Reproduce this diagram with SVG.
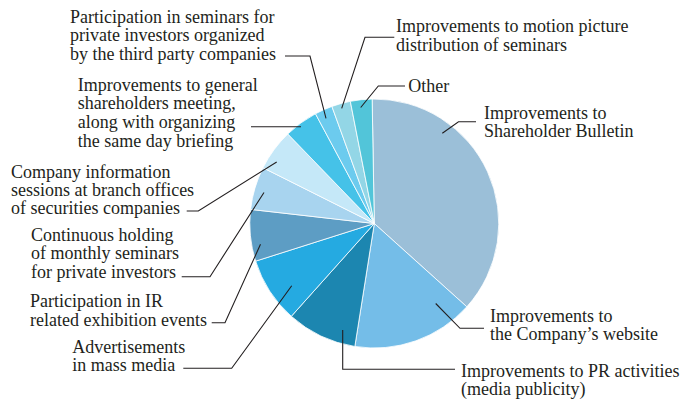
<svg xmlns="http://www.w3.org/2000/svg" width="681" height="399" viewBox="0 0 681 399">
<style>
.s{stroke:#ffffff;stroke-width:0.8;stroke-linejoin:round}
.t{font-family:"Liberation Serif","Times New Roman",serif;font-size:18px;fill:#231f20}
.c path,.c polyline{fill:none;stroke:#231f20;stroke-width:1.1}
</style>
<rect width="681" height="399" fill="#ffffff"/>
<g id="bulletin">
<path class="s" fill="#9bbfd8" d="M374.3,223.5 L372.13,99.02 A124.5,124.5 0 0 1 466.82,306.80 Z"/>
<text class="t" x="484" y="119"><tspan x="484">Improvements to</tspan><tspan x="484" y="137">Shareholder Bulletin</tspan></text>
</g>
<g id="website">
<path class="s" fill="#74bde8" d="M374.3,223.5 L466.82,306.80 A124.5,124.5 0 0 1 354.83,346.47 Z"/>
<text class="t" x="490" y="321.7"><tspan x="490">Improvements to</tspan><tspan x="490" y="340">the Company’s website</tspan></text>
</g>
<g id="pr">
<path class="s" fill="#1c86b0" d="M374.3,223.5 L354.83,346.47 A124.5,124.5 0 0 1 291.32,316.32 Z"/>
<text class="t" x="461" y="376.5"><tspan x="461">Improvements to PR activities</tspan><tspan x="461" y="394.5">(media publicity)</tspan></text>
</g>
<g id="ads">
<path class="s" fill="#25aae1" d="M374.3,223.5 L291.32,316.32 A124.5,124.5 0 0 1 255.63,261.15 Z"/>
<text class="t" x="72.3" y="352.7"><tspan x="72.3">Advertisements</tspan><tspan x="72.3" y="370.7">in mass media</tspan></text>
</g>
<g id="ir">
<path class="s" fill="#5d9dc4" d="M374.3,223.5 L255.63,261.15 A124.5,124.5 0 0 1 250.60,209.41 Z"/>
<text class="t" x="30" y="307.3"><tspan x="30">Participation in IR</tspan><tspan x="30" y="326">related exhibition events</tspan></text>
</g>
<g id="monthly">
<path class="s" fill="#a8d4ef" d="M374.3,223.5 L250.60,209.41 A124.5,124.5 0 0 1 262.97,167.75 Z"/>
<text class="t" x="31" y="240.7"><tspan x="31">Continuous holding</tspan><tspan x="31" y="259.4">of monthly seminars</tspan><tspan x="31" y="278.1">for private investors</tspan></text>
</g>
<g id="company-info">
<path class="s" fill="#c5e8f8" d="M374.3,223.5 L262.97,167.75 A124.5,124.5 0 0 1 287.81,133.95 Z"/>
<text class="t" x="11" y="178.3"><tspan x="11">Company information</tspan><tspan x="11" y="196.1">sessions at branch offices</tspan><tspan x="11" y="214">of securities companies</tspan></text>
</g>
<g id="meeting">
<path class="s" fill="#45c2e8" d="M374.3,223.5 L287.81,133.95 A124.5,124.5 0 0 1 315.46,113.78 Z"/>
<text class="t" x="77.7" y="90.7"><tspan x="77.7">Improvements to general</tspan><tspan x="77.7" y="109.3">shareholders meeting,</tspan><tspan x="77.7" y="128">along with organizing</tspan><tspan x="77.7" y="146.7">the same day briefing</tspan></text>
</g>
<g id="third-party">
<path class="s" fill="#6ccbee" d="M374.3,223.5 L315.46,113.78 A124.5,124.5 0 0 1 331.92,106.43 Z"/>
<text class="t" x="70" y="22.7"><tspan x="70">Participation in seminars for</tspan><tspan x="70" y="41.3">private investors organized</tspan><tspan x="70" y="60">by the third party companies</tspan></text>
</g>
<g id="motion-picture">
<path class="s" fill="#93d6e6" d="M374.3,223.5 L331.92,106.43 A124.5,124.5 0 0 1 350.33,101.33 Z"/>
<text class="t" x="396" y="32.3"><tspan x="396">Improvements to motion picture</tspan><tspan x="396" y="50.7">distribution of seminars</tspan></text>
</g>
<g id="other">
<path class="s" fill="#52c5d9" d="M374.3,223.5 L350.33,101.33 A124.5,124.5 0 0 1 372.13,99.02 Z"/>
<text class="t" x="408.3" y="91.7">Other</text>
</g>
<g id="connectors" class="c">
<polyline points="442.3,133.3 458.5,121.7 476,121.7"/>
<polyline points="435.7,303.5 460,328.3 484,328.3"/>
<polyline points="342.7,330 342.7,369.3 455,369.3"/>
<polyline points="291.7,285.7 231.7,368.3 183.3,368.3"/>
<polyline points="260.5,244.3 225,322.7 211.7,322.7"/>
<polyline points="264,192.5 210,276.7 181.7,276.7"/>
<polyline points="276.7,162 198.3,211 186.7,211"/>
<polyline points="301,126.7 251,126.7"/>
<polyline points="326,118.3 310,56 285,56"/>
<polyline points="341.7,108.3 365,37.3 394.3,37.3"/>
<polyline points="360.7,107.5 378.3,86 405,86"/>
</g>
</svg>
